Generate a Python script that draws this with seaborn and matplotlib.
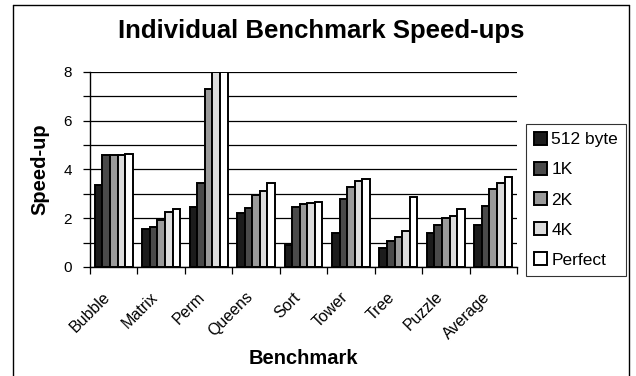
import matplotlib
matplotlib.use("Agg")
import matplotlib.pyplot as plt
import matplotlib.transforms as mtransforms
import seaborn as sns
import pandas as pd
from matplotlib.lines import Line2D
from matplotlib.patches import Patch

benchmarks = ["Bubble", "Matrix", "Perm", "Queens", "Sort", "Tower", "Tree", "Puzzle", "Average"]
configs = ["512 byte", "1K", "2K", "4K", "Perfect"]
v512 = [3.36, 1.56, 2.47, 2.20, 0.90, 1.41, 0.77, 1.41, 1.72]
v1k = [4.59, 1.65, 3.43, 2.43, 2.47, 2.77, 1.08, 1.72, 2.51]
v2k = [4.59, 1.93, 7.28, 2.95, 2.57, 3.29, 1.24, 2.02, 3.20]
v4k = [4.59, 2.24, 8.00, 3.13, 2.61, 3.54, 1.49, 2.09, 3.45]
vperf = [4.63, 2.39, 8.00, 3.43, 2.65, 3.61, 2.86, 2.36, 3.70]
colors = ["#1c1c1c", "#4a4a4a", "#9a9a9a", "#dcdcdc", "#ffffff"]

series = [v512, v1k, v2k, v4k, vperf]
rows = []
for cfg, vals in zip(configs, series):
    for b, v in zip(benchmarks, vals):
        rows.append({"Benchmark": b, "Config": cfg, "Speed-up": v})
df = pd.DataFrame(rows)

sns.set_theme(style="white")
plt.rcParams["font.family"] = ["Liberation Sans", "DejaVu Sans"]
plt.rcParams["text.color"] = "black"
plt.rcParams["axes.labelcolor"] = "black"
plt.rcParams["xtick.color"] = "black"
plt.rcParams["ytick.color"] = "black"

fig = plt.figure(figsize=(6.36, 3.76), dpi=100)
ax = fig.add_axes([90 / 636, 1 - 267 / 376, (517 - 90) / 636, (267 - 71.7) / 376])

sns.barplot(data=df, x="Benchmark", y="Speed-up", hue="Config",
            order=benchmarks, hue_order=configs, palette=colors,
            edgecolor="black", linewidth=1.4, width=0.8, ax=ax, legend=False)

ax.set_ylim(0, 8)
ax.set_xlim(-0.5, len(benchmarks) - 0.5)
ax.set_yticks([0, 2, 4, 6, 8])
ax.set_yticks([1, 3, 5, 7], minor=True)
ax.yaxis.grid(True, which="both", color="black", linewidth=0.9)
ax.set_axisbelow(True)
ax.tick_params(axis="y", which="both", direction="out", length=5, width=0.9,
               color="black", left=True, labelsize=11, pad=8, labelcolor="black")

ax.set_xticks(range(len(benchmarks)))
ax.set_xticklabels(benchmarks, rotation=45, ha="right", rotation_mode="anchor",
                   fontsize=11.5, color="black")
ax.set_xticks([i - 0.5 for i in range(len(benchmarks) + 1)], minor=True)
ax.tick_params(axis="x", which="major", length=0, pad=16)
ax.tick_params(axis="x", which="minor", direction="out", length=5, width=0.9,
               color="black", bottom=True)
shift = mtransforms.ScaledTranslation(-11 / 100, 0, fig.dpi_scale_trans)
for lbl in ax.get_xticklabels():
    lbl.set_transform(lbl.get_transform() + shift)

for s in ["top", "right"]:
    ax.spines[s].set_visible(False)
for s in ["left", "bottom"]:
    ax.spines[s].set_color("black")
    ax.spines[s].set_linewidth(1.0)

ax.set_xlabel("Benchmark", fontsize=14.5, fontweight="bold", labelpad=5, color="black")
ax.set_ylabel("Speed-up", fontsize=14.5, fontweight="bold", labelpad=10, color="black")

fig.text(321 / 636, 1 - 31 / 376, "Individual Benchmark Speed-ups",
         ha="center", va="center", fontsize=18.5, fontweight="bold", color="black")

handles = [Patch(facecolor=c, edgecolor="black", linewidth=1.4) for c in colors]
leg = fig.legend(handles, configs, loc="upper left",
                 bbox_to_anchor=(526 / 636, 1 - 124 / 376), fontsize=12.5,
                 frameon=True, fancybox=False, edgecolor="black",
                 handlelength=0.75, handleheight=0.75, handletextpad=0.25,
                 labelspacing=0.85, borderpad=0.45, borderaxespad=0)
leg.get_frame().set_linewidth(0.8)
for t in leg.get_texts():
    t.set_color("black")

# chart-area frame
fig.add_artist(Line2D([13 / 636, 13 / 636], [0, 1 - 5 / 376], transform=fig.transFigure,
                      color="black", linewidth=1.0))
fig.add_artist(Line2D([13 / 636, 629 / 636], [1 - 5 / 376, 1 - 5 / 376], transform=fig.transFigure,
                      color="black", linewidth=1.0))
fig.add_artist(Line2D([629 / 636, 629 / 636], [0, 1 - 5 / 376], transform=fig.transFigure,
                      color="black", linewidth=1.0))

fig.savefig("out.png", dpi=100, facecolor="white")
